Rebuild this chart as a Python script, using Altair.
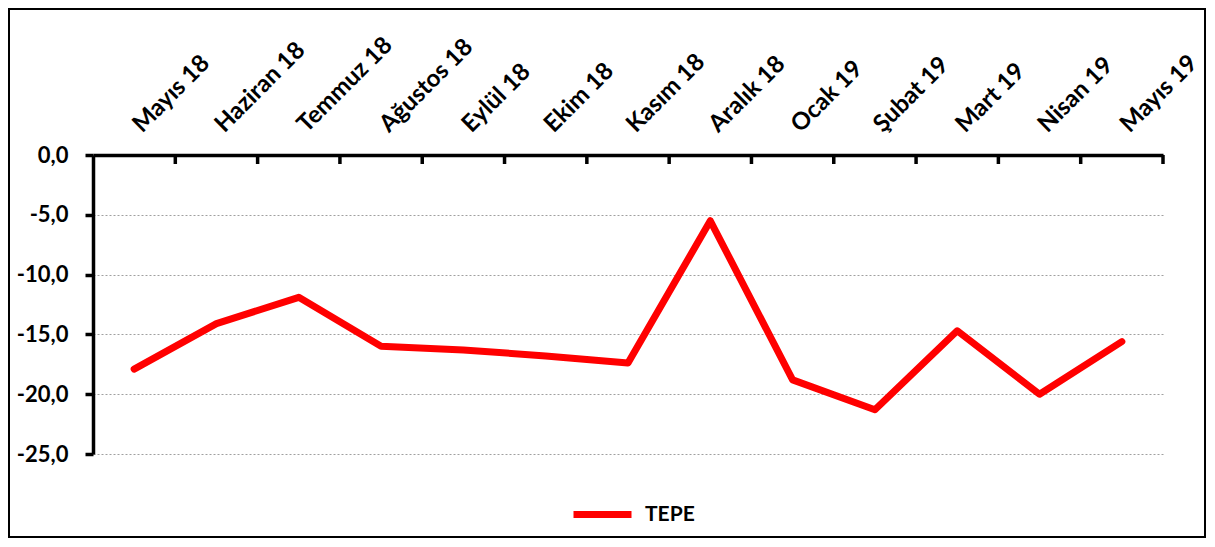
import altair as alt
import pandas as pd

months = ["Mayıs 18", "Haziran 18", "Temmuz 18", "Ağustos 18", "Eylül 18", "Ekim 18",
          "Kasım 18", "Aralık 18", "Ocak 19", "Şubat 19", "Mart 19", "Nisan 19", "Mayıs 19"]
tepe = [-17.9, -14.1, -11.9, -16.0, -16.3, -16.8, -17.4, -5.5, -18.8, -21.3, -14.7, -20.0, -15.6]
series_name = "TEPE"
y_ticks = [0, -5, -10, -15, -20, -25]

df = pd.DataFrame({"month": months, "value": tepe, "series": [series_name] * len(months)})

FONT = "Lato"

x_scale = alt.Scale(type="band", range=[84, 1154], paddingInner=0, paddingOuter=0)
y_scale = alt.Scale(domain=[-25, 0], range=[445, 146], nice=False, zero=False)

label_expr = "(datum.value < 0 ? '-' : '') + replace(format(abs(datum.value), '.1f'), '.', ',')"

line = alt.Chart(df).mark_line(strokeWidth=7, strokeCap="round", strokeJoin="round").encode(
    x=alt.X("month:N", sort=months, scale=x_scale, bandPosition=0.5,
            axis=alt.Axis(orient="top", offset=-146, labelAngle=-45, labelAlign="left",
                          labelBaseline="alphabetic", labelPadding=22, labelOffset=8, ticks=False,
                          domainColor="black", domainWidth=3.5, labelFont=FONT,
                          labelFontSize=24, labelFontWeight="bold", labelColor="black",
                          title=None, grid=False, labelOverlap=False)),
    y=alt.Y("value:Q", scale=y_scale,
            axis=alt.Axis(values=y_ticks, offset=-84, tickSize=8, tickWidth=3.5, tickColor="black",
                          domainWidth=3.5, domainColor="black", labelPadding=17,
                          labelExpr=label_expr, grid=True, gridColor="#A0A0A0",
                          gridDash=[2, 2], gridWidth=1, title=None, labelFont=FONT,
                          labelFontSize=22, labelFontWeight="bold", labelColor="black")),
    color=alt.Color("series:N", scale=alt.Scale(range=["#FF0000"]),
                    legend=alt.Legend(title=None, orient="none", legendX=561, legendY=473,
                                      symbolType="stroke", symbolStrokeWidth=7, symbolSize=3364,
                                      labelFont=FONT, labelFontSize=21, labelFontWeight="bold",
                                      labelColor="black", labelOffset=10, padding=0)),
)

ticks = alt.Chart(df).mark_rule(color="black", strokeWidth=3.5, y2Offset=9).encode(
    x=alt.X("month:N", sort=months, bandPosition=1),
    y=alt.datum(0),
    y2=alt.datum(0),
)

chart = alt.layer(ticks, line).properties(
    width=1196, height=528,
    padding={"left": 1, "top": 1, "right": 1, "bottom": 1},
    autosize=alt.AutoSizeParams(type="none"),
    background="white",
).configure_view(stroke="black", strokeWidth=2)

chart.save("out.html", embed_options={"renderer": "svg", "actions": False})
